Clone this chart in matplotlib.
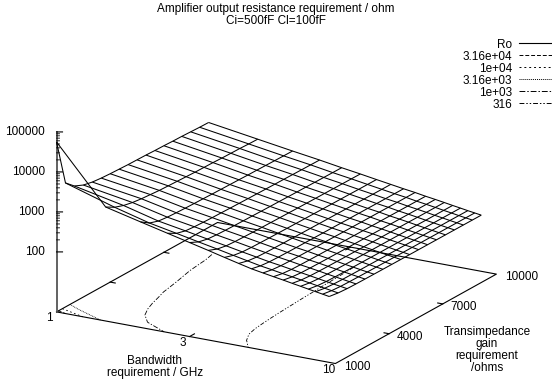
"""Amplifier output resistance surface, gnuplot style, log axes drawn by hand in 3D."""

import numpy as np
import matplotlib
matplotlib.use("Agg")
import matplotlib.pyplot as plt
from matplotlib.lines import Line2D

plt.rcParams["font.family"] = ["Liberation Sans", "DejaVu Sans"]
plt.rcParams["font.size"] = 8.5

bandwidth = [1, 1.5, 2, 2.5, 3, 3.5, 4, 4.5, 5, 5.5, 6, 6.5, 7, 7.5, 8, 8.5, 9, 9.5]
gain = [1000, 1500, 2000, 2500, 3000, 3500, 4000, 4500, 5000,
        5500, 6000, 6500, 7000, 7500, 8000, 8500, 9000, 9500]

# log10(Ro), one row per bandwidth, one column per gain
log_ro = np.array([
    [4.75, 3.60, 3.40, 3.30, 3.25, 3.225, 3.21, 3.20, 3.19, 3.185, 3.18, 3.17, 3.165, 3.155, 3.15, 3.14, 3.13, 3.125],
    [3.35, 3.22, 3.14, 3.09, 3.06, 3.04, 3.02, 3.01, 3.00, 2.99, 2.98, 2.975, 2.97, 2.96, 2.955, 2.95, 2.94, 2.935],
    [3.14, 2.987, 2.912, 2.885, 2.871, 2.861, 2.854, 2.848, 2.841, 2.836, 2.831, 2.826, 2.82, 2.817, 2.812, 2.807, 2.803, 2.80],
    [2.98, 2.854, 2.792, 2.77, 2.759, 2.75, 2.745, 2.739, 2.734, 2.729, 2.725, 2.721, 2.717, 2.714, 2.71, 2.706, 2.703, 2.70],
    [2.85, 2.742, 2.689, 2.67, 2.66, 2.653, 2.648, 2.644, 2.639, 2.635, 2.632, 2.628, 2.624, 2.622, 2.618, 2.615, 2.612, 2.61],
    [2.74, 2.65, 2.606, 2.59, 2.582, 2.576, 2.572, 2.568, 2.564, 2.561, 2.558, 2.555, 2.552, 2.55, 2.547, 2.544, 2.542, 2.54],
    [2.64, 2.566, 2.529, 2.516, 2.51, 2.505, 2.501, 2.498, 2.495, 2.492, 2.49, 2.487, 2.485, 2.483, 2.481, 2.478, 2.477, 2.475],
    [2.555, 2.494, 2.465, 2.454, 2.448, 2.444, 2.442, 2.439, 2.436, 2.434, 2.432, 2.43, 2.428, 2.427, 2.425, 2.423, 2.421, 2.42],
    [2.48, 2.43, 2.406, 2.398, 2.393, 2.39, 2.388, 2.385, 2.383, 2.382, 2.38, 2.378, 2.377, 2.376, 2.374, 2.372, 2.371, 2.37],
    [2.43, 2.385, 2.363, 2.355, 2.351, 2.348, 2.346, 2.344, 2.342, 2.34, 2.339, 2.337, 2.336, 2.335, 2.333, 2.332, 2.331, 2.33],
    [2.385, 2.34, 2.318, 2.31, 2.306, 2.303, 2.301, 2.299, 2.297, 2.295, 2.294, 2.292, 2.291, 2.29, 2.288, 2.287, 2.286, 2.285],
    [2.345, 2.302, 2.281, 2.274, 2.27, 2.267, 2.265, 2.263, 2.261, 2.26, 2.259, 2.257, 2.256, 2.255, 2.253, 2.252, 2.251, 2.25],
    [2.305, 2.265, 2.245, 2.238, 2.234, 2.231, 2.229, 2.228, 2.226, 2.224, 2.223, 2.222, 2.22, 2.22, 2.218, 2.217, 2.216, 2.215],
    [2.27, 2.23, 2.21, 2.203, 2.199, 2.196, 2.194, 2.193, 2.191, 2.189, 2.188, 2.187, 2.185, 2.185, 2.183, 2.182, 2.181, 2.18],
    [2.235, 2.197, 2.178, 2.171, 2.168, 2.165, 2.164, 2.162, 2.16, 2.159, 2.158, 2.156, 2.155, 2.154, 2.153, 2.152, 2.151, 2.15],
    [2.205, 2.167, 2.148, 2.141, 2.138, 2.135, 2.134, 2.132, 2.13, 2.129, 2.128, 2.126, 2.125, 2.124, 2.123, 2.122, 2.121, 2.12],
    [2.175, 2.139, 2.121, 2.115, 2.112, 2.109, 2.108, 2.106, 2.105, 2.103, 2.102, 2.101, 2.1, 2.099, 2.098, 2.097, 2.096, 2.095],
    [2.147, 2.112, 2.095, 2.089, 2.086, 2.084, 2.082, 2.081, 2.079, 2.078, 2.077, 2.076, 2.075, 2.074, 2.073, 2.072, 2.071, 2.07],
])

contour_levels = [31600, 10000, 3160, 1000, 316]
contour_labels = ["3.16e+04", "1e+04", "3.16e+03", "1e+03", "316"]
contour_styles = [(0, (4, 2)), (0, (2, 3)), (0, (1, 1)), (0, (6, 2, 1.5, 2)), (0, (5, 2, 1.5, 2, 1.5, 2))]
# the contours fade out behind the surface, so stop them at this gain
contour_gain_stop = [9500, 9500, 9500, 7500, 8500]

z_major = [100, 1000, 10000, 100000]
x_ticks = [3]
y_ticks = [4000, 7000]

X_MIN, X_MAX = 1, 10
Y_MIN, Y_MAX = 1000, 10000
Z_BASE, Z_TOP = 0.5, 5.0

W, H = 552, 380
fig = plt.figure(figsize=(W / 100, H / 100), dpi=100)
ax = fig.add_axes([30.5 / W, -69 / H, 479 / W, 479 / H], projection="3d",
                  proj_type="ortho", computed_zorder=False)
ax.view_init(elev=18.7, azim=-60)
ax.set_box_aspect((1, 1, 0.59))
ax.set_xlim(np.log10(X_MIN), np.log10(X_MAX))
ax.set_ylim(Y_MIN, Y_MAX)
ax.set_zlim(Z_BASE, Z_TOP)
ax.set_axis_off()
ax.patch.set_alpha(0)

u = np.log10(bandwidth)
U, G = np.meshgrid(u, gain, indexing="ij")

# base plane outline
u0, u1 = np.log10(X_MIN), np.log10(X_MAX)
kw = dict(color="k", lw=0.8)
ax.plot([u0, u1, u1, u0, u0], [Y_MIN, Y_MIN, Y_MAX, Y_MAX, Y_MIN], Z_BASE, **kw)

# x and y ticks on the base
for t in x_ticks:
    ax.plot([np.log10(t)] * 2, [Y_MIN, Y_MIN + 270], Z_BASE, **kw)
    ax.plot([np.log10(t)] * 2, [Y_MAX, Y_MAX - 270], Z_BASE, **kw)
for t in y_ticks:
    ax.plot([u0, u0 + 0.018], [t, t], Z_BASE, **kw)
    ax.plot([u1, u1 - 0.018], [t, t], Z_BASE, **kw)

# z axis with log ticks
ax.plot([u0, u0], [Y_MIN, Y_MIN], [Z_BASE, Z_TOP], color="#555555", lw=1.3)
for m in z_major:
    ax.plot([u0, u0 + 0.016], [Y_MIN, Y_MIN + 84], np.log10(m), **kw)
for m in z_major[:-1]:
    for k in range(2, 10):
        ax.plot([u0, u0 + 0.008], [Y_MIN, Y_MIN + 42], np.log10(m * k), color="k", lw=0.6)

# contours on the base
for level, style, stop in zip(contour_levels, contour_styles, contour_gain_stop):
    keep = np.array(gain) <= stop
    ax.contour(U[:, keep], G[:, keep], log_ro[:, keep], levels=[np.log10(level)],
               zdir="z", offset=Z_BASE, colors="k", linewidths=0.6, linestyles=[style])

ax.plot_wireframe(U, G, log_ro, rstride=1, cstride=1, color="k", linewidth=0.75)


def px_text(x, y, s, **kwargs):
    fig.text(x / W, 1 - y / H, s, va="center", **kwargs)


px_text(276, 9, "Amplifier output resistance requirement / ohm", ha="center")
px_text(276, 21, "Ci=500fF Cl=100fF", ha="center")

for m, y in zip(z_major, [252, 212, 172, 132]):
    px_text(45, y, str(m), ha="right")
px_text(53, 318, "1", ha="right")
px_text(183, 343, "3", ha="center")
px_text(329, 370, "10", ha="center")
for s, x, y in [("1000", 344, 367), ("4000", 397, 337), ("7000", 450, 307), ("10000", 505, 277)]:
    px_text(x, y, s, ha="left")
px_text(155, 361, "Bandwidth", ha="center")
px_text(155, 373, "requirement / GHz", ha="center")
for s, y in zip(["Transimpedance", "gain", "requirement", "/ohms"], [332, 344, 356, 368]):
    px_text(487, y, s, ha="center")

handles = [Line2D([], [], color="k", lw=0.8)]
handles += [Line2D([], [], color="k", lw=0.7, linestyle=s) for s in contour_styles]
fig.legend(handles, ["Ro"] + contour_labels, loc="upper right",
           bbox_to_anchor=(1, 1 - 38.5 / H), frameon=False, markerfirst=False,
           borderaxespad=0, borderpad=0, handlelength=2.8, handletextpad=0.58,
           labelspacing=0.0, fontsize=8.5)

fig.savefig("out.png", dpi=100)
